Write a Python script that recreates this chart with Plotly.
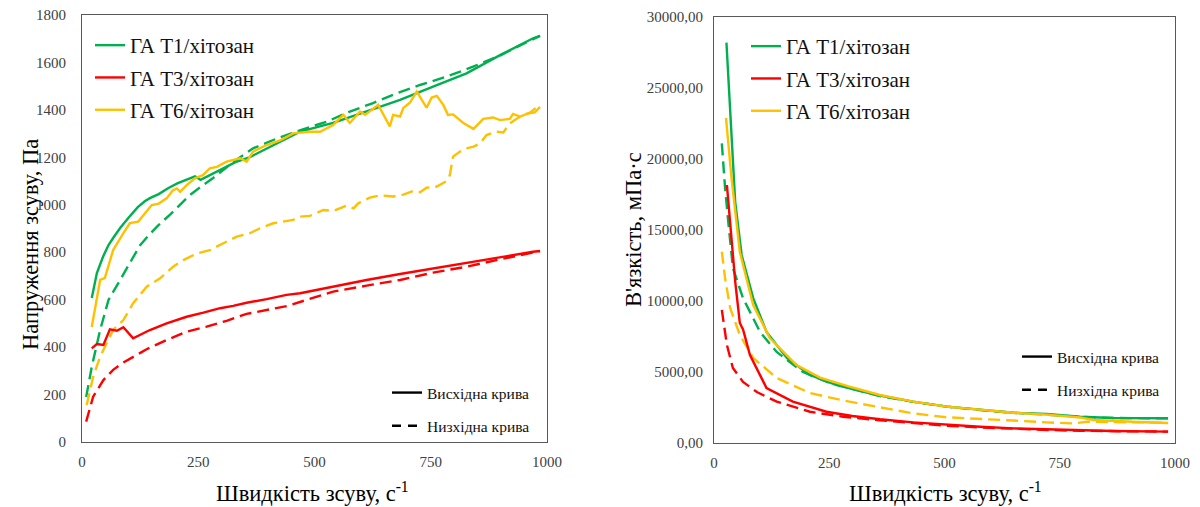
import plotly.graph_objects as go

# ---------------- Left chart: shear stress (Pa) vs shear rate (1/s) ----------------
t1_up_x = [21, 32, 45, 57, 67, 82, 100, 120, 135, 146, 165, 185, 205, 232, 243, 255, 275, 300, 330, 360, 400, 430, 469, 540, 612, 684, 755, 827, 899, 970, 985]
t1_up_y = [607, 712, 780, 830, 860, 902, 945, 990, 1015, 1028, 1045, 1070, 1090, 1113, 1120, 1105, 1125, 1150, 1180, 1200, 1240, 1270, 1308, 1345, 1393, 1442, 1498, 1554, 1631, 1702, 1712]
t1_dn_x = [9, 21, 39, 57, 82, 105, 125, 145, 165, 190, 211, 232, 255, 282, 325, 368, 420, 470, 526, 576, 626, 677, 727, 784, 841, 900, 940, 970, 985]
t1_dn_y = [190, 317, 472, 599, 683, 760, 830, 875, 915, 960, 999, 1041, 1075, 1113, 1180, 1238, 1280, 1315, 1350, 1393, 1429, 1470, 1505, 1540, 1582, 1630, 1670, 1700, 1712]

t3_up_x = [21, 32, 46, 60, 75, 89, 110, 146, 182, 225, 261, 297, 325, 354, 397, 440, 469, 512, 540, 612, 684, 755, 827, 899, 970, 985]
t3_up_y = [395, 413, 409, 475, 469, 484, 437, 472, 500, 528, 545, 564, 574, 587, 602, 620, 627, 644, 655, 683, 708, 732, 756, 778, 802, 805]
t3_dn_x = [9, 24, 46, 67, 89, 110, 139, 182, 225, 268, 311, 354, 397, 440, 483, 540, 612, 684, 755, 827, 899, 970, 985]
t3_dn_y = [86, 191, 261, 304, 335, 360, 391, 430, 465, 486, 511, 540, 557, 573, 599, 634, 659, 683, 714, 739, 770, 798, 805]

t6_up_x = [21, 39, 49, 67, 89, 103, 121, 135, 150, 165, 182, 195, 204, 211, 225, 243, 260, 275, 290, 311, 340, 354, 368, 397, 426, 454, 490, 512, 540, 562, 576, 598, 609, 637, 662, 669, 684, 691, 705, 720, 741, 752, 763, 777, 787, 798, 820, 842, 863, 884, 899, 920, 927, 942, 963, 974, 985]
t6_up_y = [485, 683, 691, 809, 880, 923, 929, 965, 999, 1005, 1027, 1060, 1069, 1055, 1083, 1112, 1125, 1154, 1160, 1182, 1196, 1182, 1224, 1252, 1271, 1301, 1308, 1308, 1336, 1379, 1345, 1393, 1379, 1421, 1330, 1379, 1372, 1408, 1430, 1477, 1409, 1452, 1459, 1421, 1379, 1381, 1345, 1320, 1362, 1368, 1357, 1362, 1383, 1372, 1387, 1390, 1413]
t6_dn_x = [10, 24, 39, 67, 89, 110, 139, 168, 196, 218, 247, 275, 304, 333, 361, 383, 411, 454, 469, 490, 519, 540, 569, 584, 594, 619, 641, 669, 691, 712, 727, 741, 763, 784, 791, 798, 813, 827, 842, 856, 870, 891, 906, 920, 934, 949, 963, 974, 985]
t6_dn_y = [156, 275, 360, 472, 514, 585, 655, 690, 739, 767, 795, 809, 838, 866, 880, 901, 922, 936, 950, 953, 978, 974, 996, 985, 1006, 1030, 1040, 1035, 1043, 1058, 1053, 1072, 1077, 1100, 1125, 1203, 1224, 1238, 1245, 1259, 1294, 1308, 1305, 1343, 1362, 1379, 1387, 1405, 1410]

# ---------------- Right chart: viscosity (mPa·s) vs shear rate (1/s) ----------------
v1_up_x = [27, 46, 60, 85, 114, 158, 208, 266, 353, 432, 505, 577, 649, 722, 794, 866, 930, 985]
v1_up_y = [28200, 16970, 13240, 10200, 7820, 5990, 4790, 4080, 3380, 2910, 2560, 2320, 2130, 2040, 1850, 1760, 1750, 1740]
v1_dn_x = [17, 24, 31, 41, 63, 100, 136, 193, 245, 300, 360, 432, 505, 577, 649, 722, 794, 866, 985]
v1_dn_y = [21100, 17960, 15560, 12320, 10200, 7820, 6410, 5000, 4300, 3800, 3300, 2900, 2560, 2320, 2130, 2000, 1850, 1760, 1740]

v3_up_x = [28, 46, 56, 63, 78, 100, 114, 171, 244, 300, 360, 432, 505, 577, 649, 722, 794, 866, 985]
v3_up_y = [18170, 11360, 8450, 8000, 6200, 4790, 3870, 2910, 2200, 1900, 1670, 1450, 1270, 1140, 1030, 950, 870, 840, 800]
v3_dn_x = [17, 28, 41, 63, 93, 136, 208, 280, 360, 432, 505, 577, 649, 722, 794, 866, 985]
v3_dn_y = [9370, 6900, 5280, 4300, 3590, 2910, 2200, 1850, 1600, 1400, 1220, 1100, 1000, 920, 860, 820, 800]

v6_up_x = [26, 38, 56, 85, 121, 179, 230, 290, 360, 432, 505, 577, 649, 722, 794, 823, 866, 920, 985]
v6_up_y = [22890, 18660, 13450, 9720, 7390, 5490, 4600, 4000, 3380, 2910, 2560, 2320, 2130, 2000, 1800, 1620, 1540, 1480, 1410]
v6_dn_x = [17, 24, 35, 56, 85, 136, 208, 280, 360, 432, 505, 577, 649, 722, 780, 809, 866, 920, 985]
v6_dn_y = [13470, 11620, 9510, 7610, 5990, 4580, 3520, 3000, 2510, 2090, 1810, 1670, 1580, 1450, 1380, 1500, 1480, 1430, 1430]

names = ["ГА T1/хітозан", "ГА T3/хітозан", "ГА T6/хітозан"]
colors = ["#00B050", "#FF0000", "#FFC000"]
style_names = ["Висхідна крива", "Низхідна крива"]

y_left_ticks = [0, 200, 400, 600, 800, 1000, 1200, 1400, 1600, 1800]
y_right_ticks = [0, 5000, 10000, 15000, 20000, 25000, 30000]
y_right_labels = ["0,00", "5000,00", "10000,00", "15000,00", "20000,00", "25000,00", "30000,00"]
x_ticks = [0, 250, 500, 750, 1000]

FONT = "Liberation Serif, Times New Roman, serif"
LW = 2.4
DASH = "12px,6px"

fig = go.Figure()

left = [(t1_up_x, t1_up_y, t1_dn_x, t1_dn_y), (t3_up_x, t3_up_y, t3_dn_x, t3_dn_y), (t6_up_x, t6_up_y, t6_dn_x, t6_dn_y)]
right = [(v1_up_x, v1_up_y, v1_dn_x, v1_dn_y), (v3_up_x, v3_up_y, v3_dn_x, v3_dn_y), (v6_up_x, v6_up_y, v6_dn_x, v6_dn_y)]

for i, (ux, uy, dx, dy) in enumerate(left):
    fig.add_trace(go.Scatter(x=dx, y=dy, mode="lines", line=dict(color=colors[i], width=LW, dash=DASH),
                             showlegend=False, xaxis="x", yaxis="y"))
for i, (ux, uy, dx, dy) in enumerate(left):
    fig.add_trace(go.Scatter(x=ux, y=uy, mode="lines", name=names[i], line=dict(color=colors[i], width=LW),
                             legend="legend", legendgroup="L" + str(i), xaxis="x", yaxis="y"))
for i, (ux, uy, dx, dy) in enumerate(right):
    fig.add_trace(go.Scatter(x=dx, y=dy, mode="lines", line=dict(color=colors[i], width=LW, dash=DASH),
                             showlegend=False, xaxis="x2", yaxis="y2"))
for i, (ux, uy, dx, dy) in enumerate(right):
    fig.add_trace(go.Scatter(x=ux, y=uy, mode="lines", name=names[i], line=dict(color=colors[i], width=LW),
                             legend="legend3", legendgroup="R" + str(i), xaxis="x2", yaxis="y2"))

# line-style legend entries (legend-only samples)
for lg, xa, ya in [("legend2", "x", "y"), ("legend4", "x2", "y2")]:
    fig.add_trace(go.Scatter(x=[None], y=[None], mode="lines", name=style_names[0],
                             line=dict(color="black", width=2.4), legend=lg, legendgroup=lg + "a",
                             xaxis=xa, yaxis=ya))
    fig.add_trace(go.Scatter(x=[None], y=[None], mode="lines", name=style_names[1],
                             line=dict(color="black", width=2.4, dash="9px,7px"), legend=lg, legendgroup=lg + "b",
                             xaxis=xa, yaxis=ya))

W, H = 1200, 507
def px(xp): return xp / W
def py(yp): return 1 - yp / H

axis_common = dict(showgrid=False, zeroline=False, showline=True, linecolor="#595959", linewidth=1,
                   mirror=True, ticks="", automargin=False,
                   tickfont=dict(family=FONT, size=15, color="#404040"))

fig.update_layout(
    width=W, height=H,
    paper_bgcolor="white", plot_bgcolor="white",
    margin=dict(l=0, r=0, t=0, b=0, autoexpand=False),
    font=dict(family=FONT, color="black"),
    xaxis=dict(domain=[px(82), px(547)], range=[0, 1000], tickvals=x_ticks, ticklabelstandoff=6, anchor="y", **axis_common),
    yaxis=dict(domain=[py(442), py(15)], range=[0, 1800], tickvals=y_left_ticks, ticklabelstandoff=12, anchor="x", **axis_common),
    xaxis2=dict(domain=[px(714), px(1175)], range=[0, 1000], tickvals=x_ticks, ticklabelstandoff=6, anchor="y2", **axis_common),
    yaxis2=dict(domain=[py(443), py(17)], range=[0, 30000], tickvals=y_right_ticks, ticktext=y_right_labels,
                ticklabelstandoff=7, anchor="x2", **axis_common),
    legend=dict(x=px(90), y=py(25), xanchor="left", yanchor="top", bgcolor="rgba(0,0,0,0)",
                font=dict(family=FONT, size=21, color="#111111"), itemwidth=30, tracegroupgap=2),
    legend2=dict(x=px(387), y=py(376), xanchor="left", yanchor="top", bgcolor="rgba(0,0,0,0)",
                 font=dict(family=FONT, size=15.5, color="#111111"), itemwidth=30, tracegroupgap=10),
    legend3=dict(x=px(746), y=py(26), xanchor="left", yanchor="top", bgcolor="rgba(0,0,0,0)",
                 font=dict(family=FONT, size=21, color="#111111"), itemwidth=30, tracegroupgap=2),
    legend4=dict(x=px(1017), y=py(340), xanchor="left", yanchor="top", bgcolor="rgba(0,0,0,0)",
                 font=dict(family=FONT, size=15.5, color="#111111"), itemwidth=30, tracegroupgap=10),
    annotations=[
        dict(text="Напруження зсуву, Па", x=px(30), y=py(245), xref="paper", yref="paper", textangle=-90,
             xanchor="center", yanchor="middle", showarrow=False, font=dict(family=FONT, size=22.5, color="black")),
        dict(text="Швидкість зсуву, с<sup>-1</sup>", x=px(312), y=py(492), xref="paper", yref="paper",
             xanchor="center", yanchor="middle", showarrow=False, font=dict(family=FONT, size=22.5, color="black")),
        dict(text="В'язкість, мПа·с", x=px(633), y=py(230), xref="paper", yref="paper", textangle=-90,
             xanchor="center", yanchor="middle", showarrow=False, font=dict(family=FONT, size=22.5, color="black")),
        dict(text="Швидкість зсуву, с<sup>-1</sup>", x=px(945), y=py(492), xref="paper", yref="paper",
             xanchor="center", yanchor="middle", showarrow=False, font=dict(family=FONT, size=22.5, color="black")),
    ],
)

fig.write_html("out.html", config={"displayModeBar": False},
               post_script="document.body.style.margin='0';document.body.style.overflow='hidden';")
